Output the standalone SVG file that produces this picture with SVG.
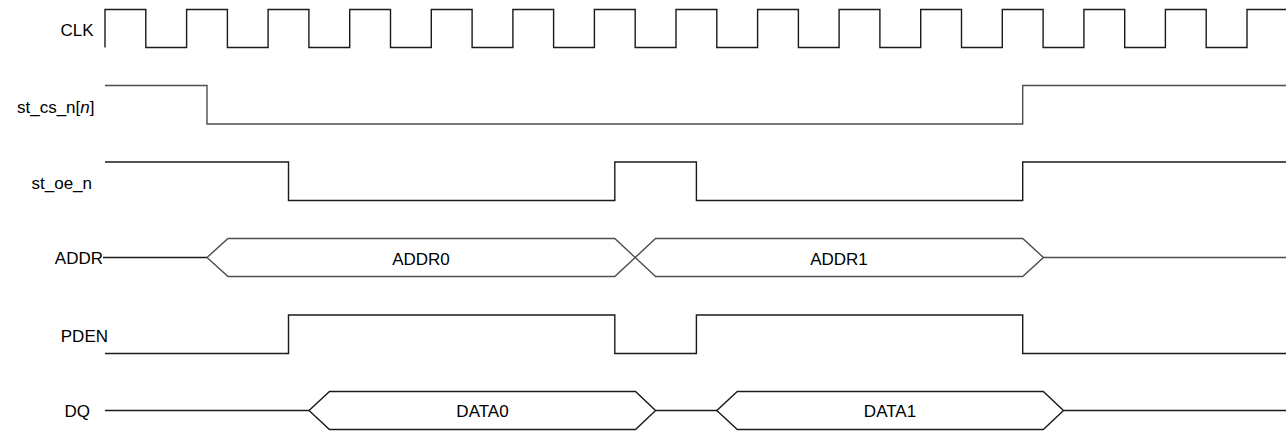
<svg xmlns="http://www.w3.org/2000/svg" width="1286" height="432" viewBox="0 0 1286 432">
  <style>
    .lbl { font-family: "Liberation Sans", Arial, sans-serif; font-size: 17px; fill: #000; }
    .sig { fill: none; stroke: #1a1a1a; stroke-width: 1.4; }
    .bus { fill: none; stroke: #4d4d4d; stroke-width: 1.4; }
  </style>
  <rect width="1286" height="432" fill="#fff"/>
  <g id="clk">
    <text class="lbl" x="93.5" y="35.7" text-anchor="end">CLK</text>
    <path class="sig" d="M105,47.5 V9.5 H145.8 V47.5 H186.6 V9.5 H227.4 V47.5 H268.1 V9.5 H308.9 V47.5 H349.7 V9.5 H390.5 V47.5 H431.3 V9.5 H472.1 V47.5 H512.9 V9.5 H553.6 V47.5 H594.4 V9.5 H635.2 V47.5 H676 V9.5 H716.8 V47.5 H757.6 V9.5 H798.4 V47.5 H839.1 V9.5 H879.9 V47.5 H920.7 V9.5 H961.5 V47.5 H1002.3 V9.5 H1043.1 V47.5 H1083.9 V9.5 H1124.7 V47.5 H1165.4 V9.5 H1206.2 V47.5 H1247 V9.5 H1286"/>
  </g>
  <g id="st_cs_n">
    <text class="lbl" x="94.5" y="113" text-anchor="end">st_cs_n[<tspan font-style="italic">n</tspan>]</text>
    <path class="bus" d="M105,85.5 H207 V124 H1022.7 V85.5 H1286"/>
  </g>
  <g id="st_oe_n">
    <text class="lbl" x="92" y="189" text-anchor="end">st_oe_n</text>
    <path class="sig" d="M105,162 H288.5 V200.5 H614.8 V162 H696.4 V200.5 H1022.7 V162 H1286"/>
  </g>
  <g id="addr">
    <text class="lbl" x="103" y="264" text-anchor="end">ADDR</text>
    <path class="sig" d="M103,257.5 H207"/>
    <path class="bus" d="M207,257.5 L228,238.5 H614.8 L655.6,276.5 H1022.7 L1043.5,257.5 H1286"/>
    <path class="bus" d="M207,257.5 L228,276.5 H614.8 L655.6,238.5 H1022.7 L1043.5,257.5"/>
    <text class="lbl" x="421" y="264.5" text-anchor="middle">ADDR0</text>
    <text class="lbl" x="839" y="264.5" text-anchor="middle">ADDR1</text>
  </g>
  <g id="pden">
    <text class="lbl" x="108" y="342" text-anchor="end">PDEN</text>
    <path class="sig" d="M105,353.5 H288.5 V315 H614.8 V353.5 H696.4 V315 H1022.7 V353.5 H1286"/>
  </g>
  <g id="dq">
    <text class="lbl" x="90" y="416.5" text-anchor="end">DQ</text>
    <path class="sig" d="M105,410.5 H309 L329.5,391.5 H635.5 L655.6,410.5 H716.8 L737.3,391.5 H1043.3 L1063.5,410.5 H1286"/>
    <path class="sig" d="M309,410.5 L329.5,429.5 H635.5 L655.6,410.5 M716.8,410.5 L737.3,429.5 H1043.3 L1063.5,410.5"/>
    <text class="lbl" x="482.5" y="417" text-anchor="middle">DATA0</text>
    <text class="lbl" x="890" y="417" text-anchor="middle">DATA1</text>
  </g>
</svg>
